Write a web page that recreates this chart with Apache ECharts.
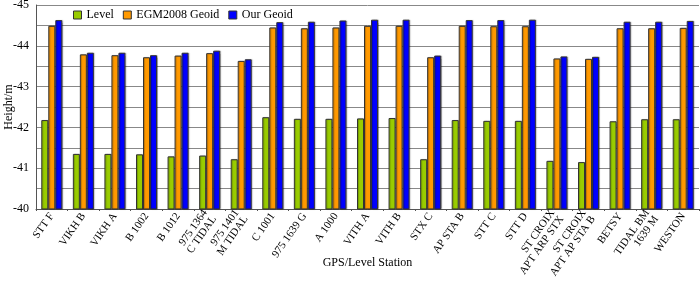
<!DOCTYPE html>
<html><head><meta charset="utf-8">
<script src="https://cdn.jsdelivr.net/npm/echarts@6/dist/echarts.min.js"></script>
<style>html,body{margin:0;padding:0;background:#fff}#c{width:700px;height:283px}</style>
</head><body><div id="c"></div>
<script>
var categories = ['STT F','VIKH B','VIKH A','B 1002','B 1012','975 1364\nC TIDAL','975 1401\nM TIDAL','C 1001','975 1639 G','A 1000','VITH A','VITH B','STX C','AP STA B','STT C','STT D','ST CROIX\nAPT ARP STX','ST CROIX\nAPT AP STA B','BETSY','TIDAL BM\n1639 M','WESTON'];
var levelValues = [-42.18,-41.35,-41.35,-41.34,-41.29,-41.31,-41.22,-42.25,-42.21,-42.21,-42.22,-42.23,-41.22,-42.18,-42.16,-42.16,-41.18,-41.15,-42.15,-42.20,-42.20];
var egmValues = [-44.49,-43.79,-43.77,-43.72,-43.76,-43.82,-43.63,-44.45,-44.43,-44.45,-44.49,-44.49,-43.72,-44.49,-44.48,-44.48,-43.69,-43.68,-44.43,-44.43,-44.44];
var ourValues = [-44.63,-43.83,-43.83,-43.77,-43.83,-43.88,-43.67,-44.58,-44.59,-44.62,-44.64,-44.64,-43.76,-44.63,-44.63,-44.64,-43.74,-43.73,-44.59,-44.59,-44.61];
var seriesNames = ['Level','EGM2008 Geoid','Our Geoid'];
var yTicks = [-45,-44,-43,-42,-41,-40];

var font = 'Liberation Serif';
var colors = ['#99cc00','#ff9900','#0000ff'];
var chart = echarts.init(document.getElementById('c'), null, {renderer:'canvas'});
function bar(name, data, color){
  return {name:name, type:'bar', data:data, barWidth:7, barGap:'0%',
    itemStyle:{color:color, borderColor:'#333', borderWidth:1,
      shadowColor:'rgba(0,0,0,0.25)', shadowBlur:1, shadowOffsetX:1, shadowOffsetY:0}};
}
chart.setOption({
  animation:false,
  textStyle:{fontFamily:font},
  grid:{left:36, right:1, top:5, bottom:74, containLabel:false, outerBoundsMode:'none'},
  legend:{top:9, left:73, padding:0, itemWidth:8, itemHeight:8, itemGap:9,
    textStyle:{fontFamily:font, fontSize:12, color:'#000'},
    data:seriesNames.map(function(n,i){return {name:n, icon:'rect', itemStyle:{borderColor:'#333',borderWidth:1}};})},
  xAxis:{type:'category', data:categories,
    name:'GPS/Level Station', nameLocation:'middle', nameGap:48, nameMoveOverlap:false,
    nameTextStyle:{fontFamily:font, fontSize:12, color:'#000'},
    axisLine:{lineStyle:{color:'#555', width:1}},
    axisTick:{show:true, length:2, alignWithLabel:false, lineStyle:{color:'#555'}},
    axisLabel:{rotate:55, interval:0, fontFamily:font, fontSize:11, color:'#000', lineHeight:11, margin:5}},
  yAxis:{type:'value', inverse:true, min:-45, max:-40, interval:0.5,
    name:'Height/m', nameLocation:'middle', nameGap:21, nameRotate:90, nameMoveOverlap:false,
    nameTextStyle:{fontFamily:font, fontSize:12, color:'#000'},
    axisLine:{show:true, lineStyle:{color:'#555'}},
    axisTick:{show:false},
    axisLabel:{fontFamily:font, fontSize:12, color:'#000', margin:7,
      formatter:function(v){ return yTicks.indexOf(v) >= 0 ? String(v) : ''; }},
    splitLine:{show:true, lineStyle:{color:'#888', width:1}}},
  series:[bar(seriesNames[0], levelValues, colors[0]), bar(seriesNames[1], egmValues, colors[1]), bar(seriesNames[2], ourValues, colors[2])]
});
</script></body></html>
